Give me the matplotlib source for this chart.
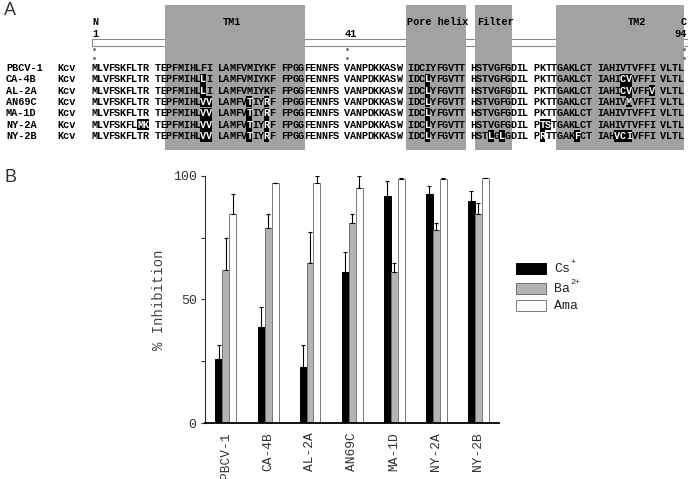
import numpy as np
import matplotlib.pyplot as plt
from matplotlib.patches import Rectangle

# sequence alignment (panel A)
strains = ['PBCV-1', 'CA-4B', 'AL-2A', 'AN69C', 'MA-1D', 'NY-2A', 'NY-2B']
seq_blocks = [
    'MLVFSKFLTR TEPFMIHLFI LAMFVMIYKF FPGGFENNFS VANPDKKASW IDCIYFGVTT HSTVGFGDIL PKTTGAKLCT IAHIVTVFFI VLTL',
    'MLVFSKFLTR TEPFMIHLLI LAMFVMIYKF FPGGFENNFS VANPDKKASW IDCLYFGVTT HSTVGFGDIL PKTTGAKLCT IAHICVVFFI VLTL',
    'MLVFSKFLTR TEPFMIHLLI LAMFVMIYKF FPGGFENNFS VANPDKKASW IDCLYFGVTT HSTVGFGDIL PKTTGAKLCT IAHICVVFFV VLTL',
    'MLVFSKFLTR TEPFMIHLVV LAMFVTIYRF FPGGFENNFS VANPDKKASW IDCLYFGVTT HSTVGFGDIL PKTTGAKLCT IAHIVMVFFI VLTL',
    'MLVFSKFLTR TEPFMIHLVV LAMFVTIYRF FPGGFENNFS VANPDKKASW IDCLYFGVTT HSTVGFGDIL PKTTGAKLCT IAHIVTVFFI VLTL',
    'MLVFSKFLMK TEPFMIHLVV LAMFVTIYRF FPGGFENNFS VANPDKKASW IDCLYFGVTT HSTVGFGDIL PTSTGAKLCT IAHIVTVFFI VLTL',
    'MLVFSKFLTR TEPFMIHLVV LAMFVTIYRF FPGGFENNFS VANPDKKASW IDCLYFGVTT HSTLGLGDIL PRTTGAKFCT IAHVCIVFFI VLTL',
]
# (label, first residue, last residue)
regions = [('TM1', 13, 34), ('Pore helix', 51, 60), ('Filter', 62, 67), ('TM2', 75, 94)]

# inhibition (panel B)
cs = [25.9, 38.9, 22.8, 60.9, 91.8, 92.8, 89.9]
cs_err = [5.8, 8.0, 8.9, 8.1, 6.0, 3.2, 4.0]
ba = [61.8, 78.7, 64.8, 80.7, 60.9, 78.0, 84.7]
ba_err = [13.0, 6.0, 12.3, 4.0, 4.0, 2.7, 4.1]
ama = [84.7, 96.9, 96.9, 94.9, 98.8, 98.8, 98.9]
ama_err = [8.1, 0.0, 2.8, 4.8, 0.3, 0.2, 0.2]

mono = 'Liberation Mono'
fig = plt.figure(figsize=(6.88, 4.79), dpi=100)

# overlay axes in pixel coordinates for panel A
ax0 = fig.add_axes([0, 0, 1, 1])
ax0.set_xlim(0, 688)
ax0.set_ylim(479, 0)
ax0.axis('off')

x0, cw = 91.2, 5.75
row0, pitch = 67.8, 11.35


def xc(r):
    # centre of residue r (1-based)
    b, i = (r - 1) // 10, (r - 1) % 10
    return x0 + (11 * b + i) * cw + cw / 2


seqs = [s.replace(' ', '') for s in seq_blocks]

ax0.add_patch(Rectangle((92, 38.5), 596, 7.5, fc='white', ec='#8a8a8a', lw=0.8, zorder=1))
for lab, r1, r2 in regions:
    left = xc(r1) - cw / 2 - 1
    right = min(xc(r2) + cw / 2 + 1, 688)
    ax0.add_patch(Rectangle((left, 5), right - left, 145, fc='#a2a2a2', ec='none', zorder=2))

tkw = dict(family=mono, fontweight='bold', fontsize=7.4, zorder=5)
ax0.text(92, 22, 'N', ha='left', va='center', **tkw)
ax0.text(92, 33.5, '1', ha='left', va='center', **tkw)
ax0.text(345, 33.5, '41', ha='left', va='center', **tkw)
ax0.text(687, 22, 'C', ha='right', va='center', **tkw)
ax0.text(687, 33.5, '94', ha='right', va='center', **tkw)
ax0.text(232, 22, 'TM1', ha='center', va='center', **tkw)
ax0.text(407, 22, 'Pore helix', ha='left', va='center', **tkw)
ax0.text(477, 22, 'Filter', ha='left', va='center', **tkw)
ax0.text(637, 22, 'TM2', ha='center', va='center', **tkw)
for xd in [94, 347, 684]:
    ax0.plot([xd, xd], [48.5, 58], ls='none', marker='s', ms=0.8, color='#555555', zorder=5)

for k, (name, s) in enumerate(zip(strains, seqs)):
    y = row0 + k * pitch
    ax0.text(6, y, name, ha='left', va='center', **tkw)
    ax0.text(57, y, 'Kcv', ha='left', va='center', **tkw)
    for r, ch in enumerate(s, start=1):
        diff = ch != seqs[0][r - 1]
        if diff:
            ax0.add_patch(Rectangle((xc(r) - cw / 2, y - 5.6), cw, 11.2, fc='black', ec='none', zorder=4))
        ax0.text(xc(r), y, ch, ha='center', va='center',
                 color='white' if diff else 'black', **tkw)

ax0.text(4, 10, 'A', fontsize=13, color='#333333', ha='left', va='center', family='Liberation Sans')
ax0.text(4, 178, 'B', fontsize=13, color='#333333', ha='left', va='center', family='Liberation Sans')

# panel B
ax = fig.add_axes([205 / 688, 1 - 423 / 479, 294 / 688, 247.3 / 479])
x = np.arange(len(strains))
w = 1 / 6
styles = [('black', 'black'), ('#b4b4b4', '#6e6e6e'), ('white', '#7a7a7a')]
series = [(cs, cs_err), (ba, ba_err), (ama, ama_err)]
for j, ((vals, errs), (fc, ec)) in enumerate(zip(series, styles)):
    xs = x + (j - 1) * w
    ax.bar(xs, vals, w, color=fc, edgecolor=ec, linewidth=0.7, zorder=2)
    ax.errorbar(xs, vals, yerr=[np.zeros(len(errs)), errs], fmt='none',
                ecolor='black', elinewidth=0.8, capsize=1.5, capthick=0.8, zorder=3)

ax.set_xlim(-0.5, 6.5)
ax.set_ylim(0, 100)
ax.spines['top'].set_visible(False)
ax.spines['right'].set_visible(False)
ax.spines['left'].set_color('#333333')
ax.spines['left'].set_linewidth(0.8)
ax.spines['bottom'].set_linewidth(1.3)
ax.set_yticks([0, 50, 100])
ax.set_yticks([25, 75], minor=True)
ax.set_xticks(x)
ax.set_xticklabels(strains, rotation=90, family=mono, fontsize=9.3, color='#333333')
for t in ax.get_yticklabels():
    t.set_family(mono)
    t.set_fontsize(9.5)
    t.set_color('#333333')
ax.tick_params(axis='y', which='both', length=3, width=0.8, pad=3, colors='#333333')
ax.tick_params(axis='x', length=0, pad=7)
ax.set_ylabel('% Inhibition', family=mono, fontsize=10, color='#444444', labelpad=5)

# legend
leg = [('Cs', '+'), ('Ba', '2+'), ('Ama', '')]
for k, ((base, sup), (fc, ec)) in enumerate(zip(leg, styles)):
    yy = [268.5, 288.2, 305.3][k]
    ax0.add_patch(Rectangle((516, yy - 5.6), 30, 11.2, fc=fc, ec=ec, lw=0.7, zorder=2))
    ax0.text(554, yy + 0.5, base, family=mono, fontsize=9.5, color='#222222', ha='left', va='center')
    if sup:
        ax0.text(554 + len(base) * 7.8 + 0.5, yy - 6, sup, family=mono, fontsize=6,
                 color='#222222', ha='left', va='center')

fig.savefig('out.png', dpi=100)
